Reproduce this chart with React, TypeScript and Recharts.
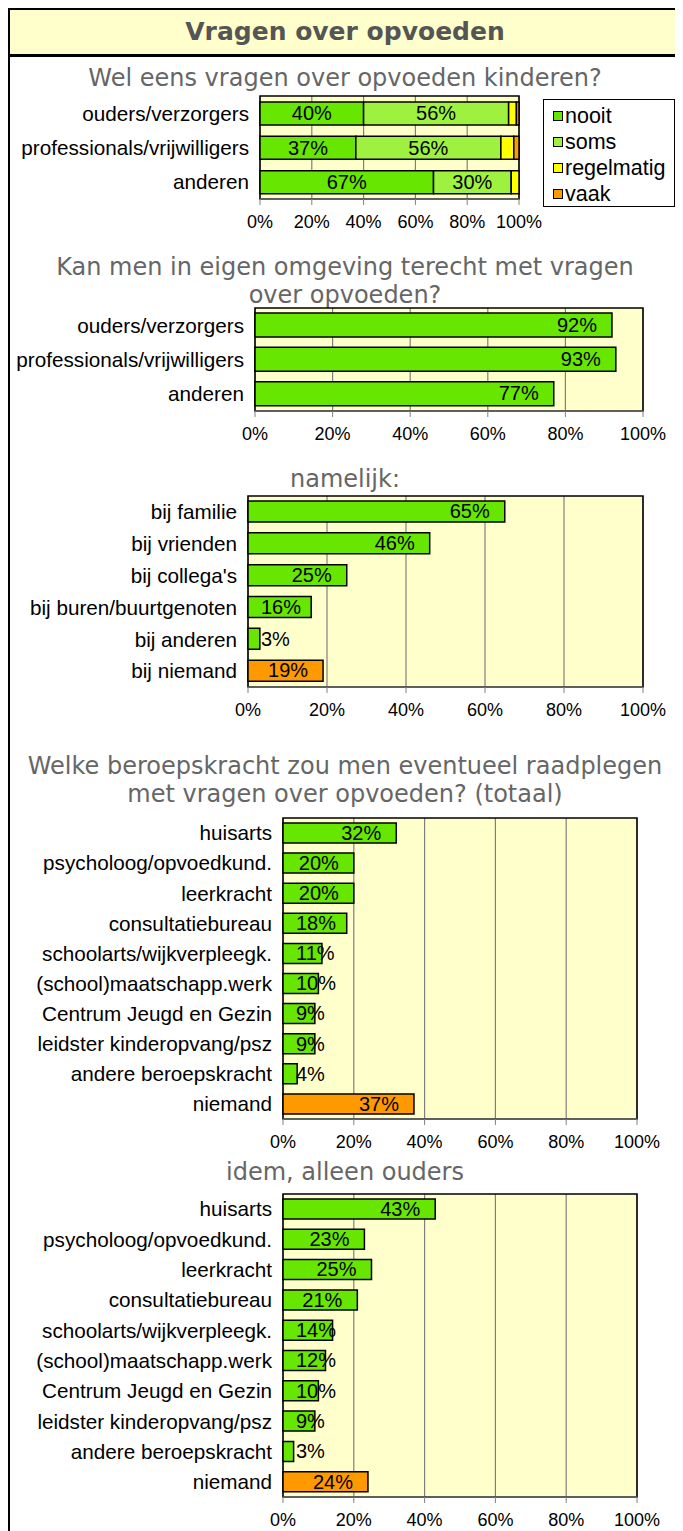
import React from "react";
import {
  Bar,
  BarChart,
  CartesianGrid,
  Cell,
  LabelList,
  Legend,
  ReferenceArea,
  XAxis,
  YAxis,
} from "recharts";

const FONT = '"Liberation Sans", Arial, sans-serif';
const TITLE_FONT = '"DejaVu Sans", Verdana, sans-serif';

const W = 670;
const AXIS_H = 34;

const GREEN = "#66E600";
const LIGHT_GREEN = "#9EF23F";
const YELLOW = "#FFFF00";
const ORANGE = "#FF9900";
const PLOT_BG = "#FFFFCC";

// chart 1: wel eens vragen
const groups = ["ouders/verzorgers", "professionals/vrijwilligers", "anderen"];
const seriesNames = ["nooit", "soms", "regelmatig", "vaak"];
const nooit = [40, 37, 67];
const soms = [56, 56, 30];
const regelmatig = [3, 5, 3];
const vaak = [1, 2, 0];

// chart 2: terecht in eigen omgeving
const terecht = [92, 93, 77];

// chart 3: namelijk
const namelijkCats = [
  "bij familie",
  "bij vrienden",
  "bij collega's",
  "bij buren/buurtgenoten",
  "bij anderen",
  "bij niemand",
];
const namelijk = [65, 46, 25, 16, 3, 19];

// chart 4 + 5: beroepskracht
const beroepCats = [
  "huisarts",
  "psycholoog/opvoedkund.",
  "leerkracht",
  "consultatiebureau",
  "schoolarts/wijkverpleegk.",
  "(school)maatschapp.werk",
  "Centrum Jeugd en Gezin",
  "leidster kinderopvang/psz",
  "andere beroepskracht",
  "niemand",
];
const beroepTotaal = [32, 20, 20, 18, 11, 10, 9, 9, 4, 37];
const beroepOuders = [43, 23, 25, 21, 14, 12, 10, 9, 3, 24];

const pctTicks = [0, 20, 40, 60, 80, 100];

const SERIES_COLORS: Record<string, string> = {
  nooit: GREEN,
  soms: LIGHT_GREEN,
  regelmatig: YELLOW,
  vaak: ORANGE,
};

type Plot = { left: number; right: number; top: number; bottom: number };

const stackedData = groups.map((name, i) => ({
  name,
  nooit: nooit[i],
  soms: soms[i],
  regelmatig: regelmatig[i],
  vaak: vaak[i],
}));

function toRows(cats: string[], values: number[]) {
  return cats.map((name, i) => ({ name, value: values[i] }));
}

// label sits just inside the bar end, but never starts before the bar's left + 13
function endLabel(props: any) {
  const { x, y, width, height, value } = props;
  const txt = `${value}%`;
  const tw = String(value).length * 11.12 + 17.78;
  const sx = Math.max(x + 13, x + width - 15 - tw);
  return (
    <text
      x={sx}
      y={y + height / 2}
      dy="0.34em"
      fontSize={20}
      fontFamily={FONT}
      fill="#000"
    >
      {txt}
    </text>
  );
}

function centerLabel(props: any) {
  const { x, y, width, height, value } = props;
  return (
    <text
      x={x + width / 2}
      y={y + height / 2}
      dy="0.34em"
      textAnchor="middle"
      fontSize={20}
      fontFamily={FONT}
      fill="#000"
    >
      {`${value}%`}
    </text>
  );
}

function renderLegend(props: any) {
  const payload = [...(props.payload || [])].sort(
    (a: any, b: any) => seriesNames.indexOf(a.value) - seriesNames.indexOf(b.value)
  );
  return (
    <div
      style={{
        boxSizing: "border-box",
        width: 132,
        height: 108,
        border: "1px solid #000",
        background: "#fff",
        padding: "3px 0 0 9px",
        fontFamily: FONT,
        fontSize: 21.5,
      }}
    >
      {payload.map((p: any) => (
        <div
          key={p.value}
          style={{ height: 26, display: "flex", alignItems: "center" }}
        >
          <span
            style={{
              display: "inline-block",
              width: 8,
              height: 8,
              border: "1px solid #000",
              background: SERIES_COLORS[p.value] || p.color,
              marginRight: 2,
            }}
          />
          <span>{p.value}</span>
        </div>
      ))}
    </div>
  );
}

function Title({ center, lines }: { center: number; lines: string[] }) {
  return (
    <div
      style={{
        position: "absolute",
        left: 0,
        top: center - 14,
        width: W,
        textAlign: "center",
        fontFamily: TITLE_FONT,
        fontSize: 24,
        lineHeight: "28px",
        color: "#666",
        whiteSpace: "nowrap",
      }}
    >
      {lines.map((l) => (
        <div key={l}>{l}</div>
      ))}
    </div>
  );
}

function chartSize(p: Plot) {
  return {
    width: W,
    height: p.bottom - p.top + 2 + AXIS_H,
    margin: { top: 2, right: W - p.right, bottom: 0, left: 0 },
  };
}

function xAxisEl() {
  return (
    <XAxis
      type="number"
      domain={[0, 100]}
      ticks={pctTicks}
      tickFormatter={(v) => `${v}%`}
      height={AXIS_H}
      tick={{ fontSize: 18, fill: "#000", fontFamily: FONT }}
      axisLine={{ stroke: "#808080" }}
      tickLine={{ stroke: "#808080" }}
      tickSize={6}
      tickMargin={10}
    />
  );
}

function yAxisEl(width: number) {
  return (
    <YAxis
      type="category"
      dataKey="name"
      width={width}
      interval={0}
      axisLine={false}
      tickLine={false}
      tickSize={0}
      tickMargin={11}
      tick={{ fontSize: 20.7, fill: "#000", fontFamily: FONT }}
    />
  );
}

function SimpleChart({
  plot,
  rows,
  barSize,
  orangeFrom,
}: {
  plot: Plot;
  rows: { name: string; value: number }[];
  barSize: number;
  orangeFrom: number;
}) {
  const s = chartSize(plot);
  return (
    <div style={{ position: "absolute", left: 0, top: plot.top - 2 }}>
      <BarChart
        layout="vertical"
        width={s.width}
        height={s.height}
        margin={s.margin}
        data={rows}
      >
        <CartesianGrid
          horizontal={false}
          stroke="#808080"
          strokeWidth={1.2}
          fill={PLOT_BG}
        />
        {xAxisEl()}
        {yAxisEl(plot.left)}
        <ReferenceArea
          x1={0}
          x2={100}
          fill="none"
          stroke="#000"
          strokeWidth={1.5}
        />
        <Bar
          dataKey="value"
          barSize={barSize}
          stroke="#000"
          strokeWidth={1.5}
          isAnimationActive={false}
        >
          {rows.map((r, i) => (
            <Cell key={r.name} fill={i >= orangeFrom ? ORANGE : GREEN} />
          ))}
          <LabelList dataKey="value" content={endLabel} />
        </Bar>
      </BarChart>
    </div>
  );
}

function StackedChart({ plot }: { plot: Plot }) {
  const s = chartSize(plot);
  return (
    <div style={{ position: "absolute", left: 0, top: plot.top - 2 }}>
      <BarChart
        layout="vertical"
        width={s.width}
        height={s.height}
        margin={s.margin}
        data={stackedData}
      >
        <CartesianGrid
          horizontal={false}
          stroke="#808080"
          strokeWidth={1.2}
          fill={PLOT_BG}
        />
        {xAxisEl()}
        {yAxisEl(plot.left)}
        <ReferenceArea
          x1={0}
          x2={100}
          fill="none"
          stroke="#000"
          strokeWidth={1.5}
        />
        <Legend
          layout="vertical"
          align="center"
          verticalAlign="middle"
          content={renderLegend}
          wrapperStyle={{ left: 533, top: 5, width: 132 }}
        />
        <Bar dataKey="nooit" name="nooit" stackId="a" barSize={23} fill={GREEN} stroke="#000" strokeWidth={1.5} isAnimationActive={false}>
          <LabelList dataKey="nooit" content={centerLabel} />
        </Bar>
        <Bar dataKey="soms" name="soms" stackId="a" barSize={23} fill={LIGHT_GREEN} stroke="#000" strokeWidth={1.5} isAnimationActive={false}>
          <LabelList dataKey="soms" content={centerLabel} />
        </Bar>
        <Bar dataKey="regelmatig" name="regelmatig" stackId="a" barSize={23} fill={YELLOW} stroke="#000" strokeWidth={1.5} isAnimationActive={false} />
        <Bar dataKey="vaak" name="vaak" stackId="a" barSize={23} fill={ORANGE} stroke="#000" strokeWidth={1.5} isAnimationActive={false} />
      </BarChart>
    </div>
  );
}

export default function App() {
  return (
    <div
      style={{
        position: "relative",
        width: W,
        height: 1521,
        border: "2px solid #000",
        borderBottom: "none",
        background: "#fff",
        overflow: "hidden",
      }}
    >
      <div
        style={{
          position: "absolute",
          left: 0,
          top: 0,
          width: W,
          height: 44,
          background: PLOT_BG,
          borderBottom: "3px solid #000",
          textAlign: "center",
          lineHeight: "44px",
          fontFamily: TITLE_FONT,
          fontWeight: "bold",
          fontSize: 25,
          color: "#555",
        }}
      >
        Vragen over opvoeden
      </div>

      <Title center={68} lines={["Wel eens vragen over opvoeden kinderen?"]} />
      <StackedChart plot={{ left: 250, right: 509, top: 86, bottom: 189 }} />

      <Title
        center={257}
        lines={["Kan men in eigen omgeving terecht met vragen", "over opvoeden?"]}
      />
      <SimpleChart
        plot={{ left: 245, right: 633, top: 298, bottom: 401 }}
        rows={toRows(groups, terecht)}
        barSize={24}
        orangeFrom={99}
      />

      <Title center={469} lines={["namelijk:"]} />
      <SimpleChart
        plot={{ left: 238, right: 633, top: 486, bottom: 677 }}
        rows={toRows(namelijkCats, namelijk)}
        barSize={21}
        orangeFrom={5}
      />

      <Title
        center={756}
        lines={[
          "Welke beroepskracht zou men eventueel raadplegen",
          "met vragen over opvoeden? (totaal)",
        ]}
      />
      <SimpleChart
        plot={{ left: 273, right: 627, top: 808, bottom: 1109 }}
        rows={toRows(beroepCats, beroepTotaal)}
        barSize={20}
        orangeFrom={9}
      />

      <Title center={1162} lines={["idem, alleen ouders"]} />
      <SimpleChart
        plot={{ left: 273, right: 627, top: 1184, bottom: 1487 }}
        rows={toRows(beroepCats, beroepOuders)}
        barSize={20}
        orangeFrom={9}
      />
    </div>
  );
}
